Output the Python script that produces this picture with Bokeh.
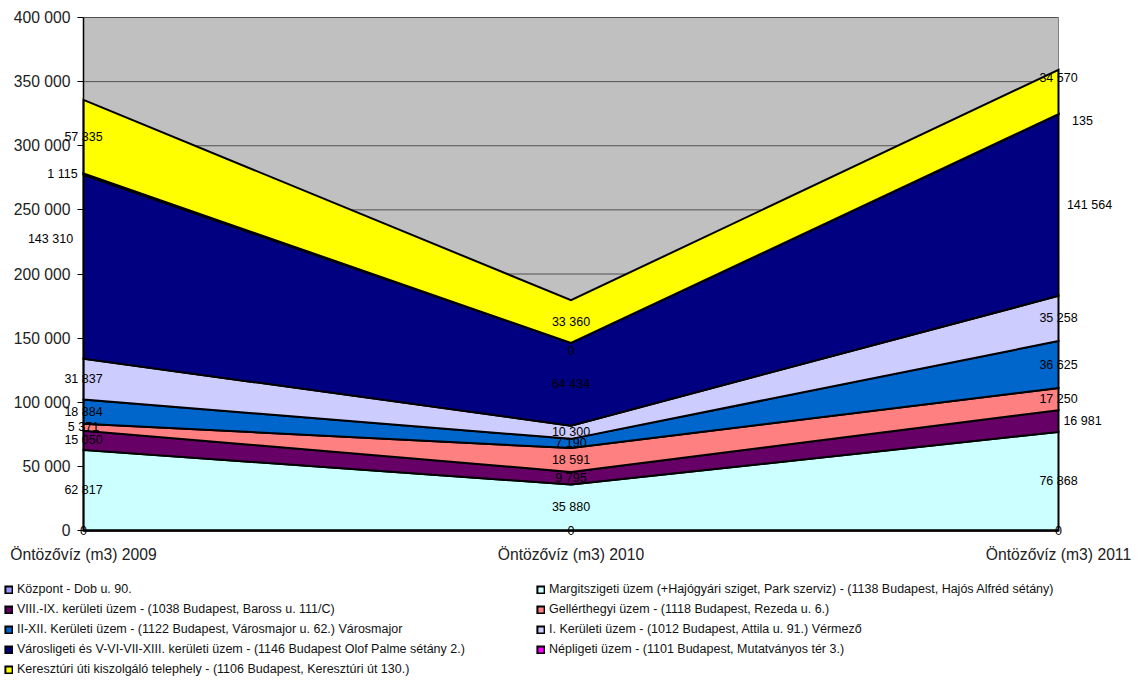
from bokeh.plotting import figure
from bokeh.models import (Range1d, FixedTicker, Legend, LegendItem, ColumnDataSource,
                          LabelSet)
from bokeh.embed import file_html
from bokeh.resources import INLINE
from bokeh.core.properties import value
import numpy as np

# ---------------- data ----------------
categories = ["Öntözővíz (m3) 2009", "Öntözővíz (m3) 2010", "Öntözővíz (m3) 2011"]

series_names = [
    "Központ - Dob u. 90.",
    "Margitszigeti üzem (+Hajógyári sziget, Park szerviz) - (1138 Budapest, Hajós Alfréd sétány)",
    "VIII.-IX. kerületi üzem - (1038 Budapest, Baross u. 111/C)",
    "Gellérthegyi üzem - (1118 Budapest, Rezeda u. 6.)",
    "II-XII. Kerületi üzem - (1122 Budapest, Városmajor u. 62.) Városmajor",
    "I. Kerületi üzem - (1012 Budapest, Attila u. 91.) Vérmező",
    "Városligeti és V-VI-VII-XIII. kerületi üzem - (1146 Budapest Olof Palme sétány 2.)",
    "Népligeti üzem - (1101 Budapest, Mutatványos tér 3.)",
    "Keresztúri úti kiszolgáló telephely - (1106 Budapest, Keresztúri út 130.)",
]

kozpont = [0, 0, 0]
margitsziget = [62817, 35880, 76868]
viii_ix = [15050, 9795, 16981]
gellerthegy = [5371, 18591, 17250]
ii_xii = [18884, 7190, 36625]
i_kerulet = [31837, 10300, 35258]
varosliget = [143310, 64434, 141564]
nepliget = [1115, 0, 135]
kereszturi = [57335, 33360, 34570]

y_ticks = [0, 50000, 100000, 150000, 200000, 250000, 300000, 350000, 400000]
y_tick_labels = ["0", "50 000", "100 000", "150 000", "200 000", "250 000",
                 "300 000", "350 000", "400 000"]

# ---------------- style / layout ----------------
colors = ["#9999FF", "#CCFFFF", "#660066", "#FF8080", "#0066CC",
          "#CCCCFF", "#000080", "#FF00FF", "#FFFF00"]
FONT = "Liberation Sans"

W, H = 1143, 680
AREA_LEFT, AREA_RIGHT, AREA_TOP, AREA_BOTTOM = 83, 1058, 17, 530   # plot area in px

# label nudges (screen px, +y = up) for labels Excel moved away from the band centre
label_nudges = {
    (6, 0): (-33, 28),
    (7, 0): (-21, 0),
    (7, 1): (0, -7),
    (8, 2): (0, 14),
    (7, 2): (24, -6),
    (6, 2): (31, 0),
    (2, 2): (24, 0),
}

series = [kozpont, margitsziget, viii_ix, gellerthegy, ii_xii,
          i_kerulet, varosliget, nepliget, kereszturi]

xs = np.arange(len(categories), dtype=float)
x0, x1 = xs[0], xs[-1]
y0, y1 = y_ticks[0], y_ticks[-1]

# ranges so that the plot area sits at the right pixels while the frame is the whole canvas
xpp = (x1 - x0) / (AREA_RIGHT - AREA_LEFT)
ypp = (y1 - y0) / (AREA_BOTTOM - AREA_TOP)
x_range = Range1d(x0 - AREA_LEFT * xpp, x1 + (W - AREA_RIGHT) * xpp)
y_range = Range1d(y0 - (H - AREA_BOTTOM) * ypp, y1 + AREA_TOP * ypp)

p = figure(width=W, height=H, output_backend="svg", toolbar_location=None,
           x_range=x_range, y_range=y_range,
           min_border=0, min_border_left=0, min_border_right=0,
           min_border_top=0, min_border_bottom=0)
p.background_fill_color = "white"
p.border_fill_color = "white"
p.outline_line_color = None
p.grid.visible = False

# plot-area background, gridlines and right border
p.quad(left=[x0], right=[x1], bottom=[y0], top=[y1], fill_color="#C0C0C0", line_color=None)
p.segment(x0=[x0] * len(y_ticks), x1=[x1] * len(y_ticks), y0=y_ticks, y1=y_ticks,
          line_color="#505050", line_width=1)
p.segment(x0=[x1], x1=[x1], y0=[y0], y1=[y1], line_color="#808080", line_width=1)

renderers = []
lower = np.zeros(len(categories))
lab_x, lab_y, lab_t, lab_dx, lab_dy = [], [], [], [], []
for i, vals in enumerate(series):
    v = np.array(vals, dtype=float)
    upper = lower + v
    px = list(xs) + list(xs[::-1])
    py = list(upper) + list(lower[::-1])
    r = p.patch(px, py, fill_color=colors[i], line_color="black", line_width=2,
                line_join="miter")
    renderers.append(r)
    for j in range(len(categories)):
        dx, dy = label_nudges.get((i, j), (0, 0))
        lab_x.append(xs[j])
        lab_y.append(lower[j] + v[j] / 2)
        lab_t.append(f"{int(vals[j]):,}".replace(",", " "))
        lab_dx.append(dx)
        lab_dy.append(dy)
    lower = upper

lsrc = ColumnDataSource(dict(x=lab_x, y=lab_y, t=lab_t, dx=lab_dx, dy=lab_dy))
labels = LabelSet(x="x", y="y", text="t", x_offset="dx", y_offset="dy", source=lsrc,
                  text_font=value(FONT), text_font_size=value("12.5px"),
                  text_color=value("black"),
                  text_align=value("center"), text_baseline=value("middle"))
p.add_layout(labels)

# axes (kept in their side panels, drawn at fixed data locations)
p.yaxis.fixed_location = x0
p.yaxis.bounds = (y0, y1)
p.yaxis.ticker = FixedTicker(ticks=y_ticks)
p.yaxis.major_label_overrides = {t: l for t, l in zip(y_ticks, y_tick_labels)}
p.yaxis.major_label_text_font = FONT
p.yaxis.major_label_text_font_size = "15.7px"
p.yaxis.major_label_text_color = "#222222"
p.yaxis.major_tick_out = 6
p.yaxis.major_tick_in = 0
p.yaxis.minor_tick_out = 0
p.yaxis.minor_tick_in = 0
p.yaxis.major_label_standoff = 7
p.yaxis.axis_line_color = "black"
p.yaxis.axis_line_width = 1.5
p.yaxis.major_tick_line_color = "black"

p.xaxis.fixed_location = y0
p.xaxis.bounds = (x0, x1)
p.xaxis.ticker = FixedTicker(ticks=list(xs))
p.xaxis.major_label_overrides = {float(x): c for x, c in zip(xs, categories)}
p.xaxis.major_label_text_font = FONT
p.xaxis.major_label_text_font_size = "15.7px"
p.xaxis.major_label_text_color = "#222222"
p.xaxis.major_tick_out = 0
p.xaxis.major_tick_in = 0
p.xaxis.minor_tick_out = 0
p.xaxis.minor_tick_in = 0
p.xaxis.major_label_standoff = 15
p.xaxis.axis_line_color = "black"
p.xaxis.axis_line_width = 2

# legends (two columns)
col1 = [0, 2, 4, 6, 8]
col2 = [1, 3, 5, 7]
ROW_H, ROW_GAP = 20, 0
FIRST_ROW_CENTER = 589


def make_legend(idx, left_px):
    n = len(idx)
    height = n * ROW_H + (n - 1) * ROW_GAP
    bottom_px = FIRST_ROW_CENTER - ROW_H / 2 + height
    lg = Legend(items=[LegendItem(label=series_names[k], renderers=[renderers[k]]) for k in idx],
                location=(left_px, H - bottom_px), orientation="vertical")
    lg.glyph_width = 9
    lg.glyph_height = 9
    lg.label_standoff = 4
    lg.label_height = ROW_H
    lg.spacing = ROW_GAP
    lg.padding = 0
    lg.margin = 0
    lg.border_line_color = None
    lg.background_fill_alpha = 0
    lg.label_text_font = FONT
    lg.label_text_font_size = "12.5px"
    lg.label_text_color = "#111111"
    lg.click_policy = "none"
    return lg


p.add_layout(make_legend(col1, 4))
p.add_layout(make_legend(col2, 536))

open("out.html", "w").write(file_html(p, INLINE))
